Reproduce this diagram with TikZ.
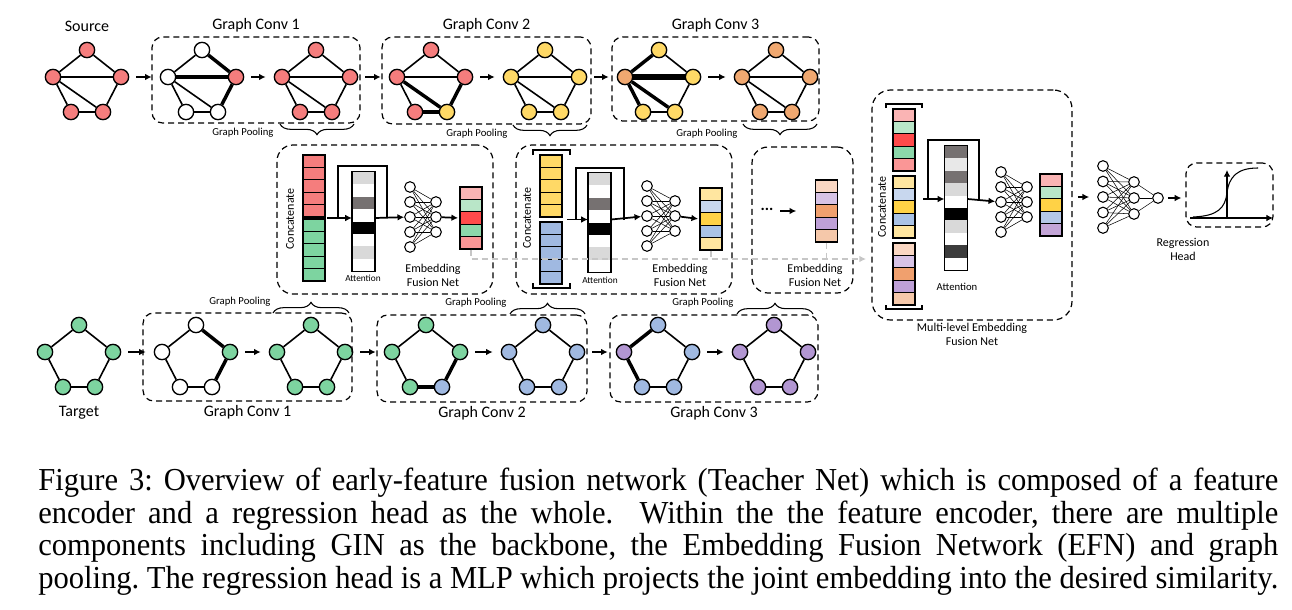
\documentclass[tikz,border=0pt]{standalone}
\usepackage{fontspec}
\setmainfont{Liberation Serif}
\newfontfamily\diagfont{Carlito}
\usetikzlibrary{arrows.meta,positioning,calc,fit,decorations.pathreplacing}
\definecolor{gred}{RGB}{245,125,125}
\definecolor{gyel}{RGB}{255,217,102}
\definecolor{gora}{RGB}{240,168,112}
\definecolor{ggrn}{RGB}{125,212,160}
\definecolor{gblu}{RGB}{160,185,225}
\definecolor{gpur}{RGB}{178,150,210}
\definecolor{lred}{RGB}{250,180,180}
\definecolor{lgrn}{RGB}{185,230,200}
\definecolor{dred}{RGB}{255,75,75}
\definecolor{mgrn}{RGB}{140,215,170}
\definecolor{pred}{RGB}{250,150,150}
\definecolor{lyel}{RGB}{255,230,160}
\definecolor{lblu}{RGB}{200,215,238}
\definecolor{gold}{RGB}{255,210,70}
\definecolor{mblu}{RGB}{170,195,230}
\definecolor{lblux}{RGB}{180,199,231}
\definecolor{peach}{RGB}{250,215,195}
\definecolor{lpur}{RGB}{215,195,230}
\definecolor{lpurx}{RGB}{195,165,215}
\definecolor{dora}{RGB}{240,160,110}
\definecolor{mpur}{RGB}{190,160,215}
\definecolor{peachx}{RGB}{245,200,170}
\definecolor{alg}{RGB}{217,217,217}
\definecolor{algx}{RGB}{232,232,232}
\definecolor{adg}{RGB}{118,113,113}
\definecolor{adk}{RGB}{60,60,60}

% graph with five vertices: name, x, y, colours (top, left, right, bottom left, bottom right)
\newcommand\gpent[8]{%
  \node[vx, fill=#4] (#1-t) at ({#2},{#3-27}) {};
  \node[vx, fill=#5] (#1-l) at ({#2-34},{#3}) {};
  \node[vx, fill=#6] (#1-r) at ({#2+34},{#3}) {};
  \node[vx, fill=#7] (#1-a) at ({#2-16},{#3+35}) {};
  \node[vx, fill=#8] (#1-b) at ({#2+16},{#3+35}) {};}
\newcommand\gring[6]{%
  \draw[#2] (#1-t) -- (#1-l); \draw[#3] (#1-t) -- (#1-r); \draw[#4] (#1-r) -- (#1-b);
  \draw[#5] (#1-b) -- (#1-a); \draw[#6] (#1-a) -- (#1-l);}
\newcommand\gchords[3]{\draw[#2] (#1-l) -- (#1-r); \draw[#3] (#1-l) -- (#1-b);}
% embedding vector: name, x, top, colours
\newcommand\emvec[4]{%
  \foreach \c [count=\i] in {#4}
    \node[cell, fill=\c] (#1\i) at ({#2},{#3+12.4*(\i-0.5)}) {};}
% attention bar: name, x, top, colours, count
\newcommand\attbar[5]{%
  \foreach \c [count=\i] in {#4}
    \node[acell, fill=\c] (#1\i) at ({#2},{#3+12.4*(\i-0.5)}) {};
  \draw[line width=1pt] (#11.north west) rectangle (#1#5.south east);}
% small fusion net: name, x in, x out, y
\newcommand\nnet[4]{%
  \foreach \i in {1,...,5} \node[neu] (#1-i\i) at ({#2},{#4+15*(\i-3)}) {};
  \foreach \j in {1,2,3} \node[neu] (#1-o\j) at ({#3},{#4+15*(\j-2)}) {};
  \foreach \i in {1,...,5} \foreach \j in {1,2,3} \draw[syn] (#1-i\i) -- (#1-o\j);}
\newlength\capw
\newcommand\capfont{\fontsize{24}{24}\selectfont\frenchspacing}
\newcommand\capline[1]{\scalebox{\capf}[1]{\makebox[\capw][s]{#1}}}

\begin{document}
\settowidth{\capw}{\capfont pooling. The regression head is a MLP which projects the joint embedding into the desired similarity.}%
\pgfmathsetmacro\capf{930/\capw}%
\begin{tikzpicture}[x=0.75pt, y=-0.75pt, >=Latex,
  vx/.style={circle, draw, line width=1pt, minimum size=11.5pt, inner sep=0pt},
  edg/.style={line width=1.2pt}, edgt/.style={line width=2.6pt}, edgtt/.style={line width=3.8pt},
  arr/.style={-{Latex[length=5pt,width=5pt]}, line width=1.3pt},
  garr/.style={arr, shorten <=5pt, shorten >=6pt},
  dbox/.style={draw, line width=0.9pt, dash pattern=on 4.5pt off 3pt, rounded corners=8pt, inner sep=0pt},
  cell/.style={draw, line width=0.9pt, minimum width=16.5pt, minimum height=9.3pt, inner sep=0pt},
  acell/.style={minimum width=17pt, minimum height=9.3pt, inner sep=0pt},
  neu/.style={circle, draw, line width=0.8pt, minimum size=8pt, inner sep=0pt, fill=white},
  syn/.style={line width=0.4pt},
  brk/.style={line width=1.3pt},
  ln/.style={line width=1.3pt},
  gdash/.style={gray!45, line width=1.2pt, dash pattern=on 4.5pt off 3pt},
  brcd/.style={decorate, decoration={brace, amplitude=8pt, mirror}, line width=0.8pt},
  brcu/.style={decorate, decoration={brace, amplitude=8pt}, line width=0.8pt},
  lbl/.style={font=\diagfont\fontsize{12}{14}\selectfont, inner sep=2pt},
  gp/.style={font=\diagfont\fontsize{8}{9}\selectfont, inner sep=1pt},
  efl/.style={font=\diagfont\fontsize{9}{10.5}\selectfont, align=center, inner sep=1pt},
  att/.style={font=\diagfont\fontsize{7}{8}\selectfont, inner sep=1pt},
  captxt/.style={font=\capfont, inner sep=0pt, anchor=base west}]
\useasboundingbox (0,0) rectangle (1292,610);

% source graph and its convolutions
\gpent{src}{87}{77}{gred}{gred}{gred}{gred}{gred}
\gring{src}{edg}{edg}{edg}{edg}{edg} \gchords{src}{edg}{edg}
\gpent{caa}{202}{77}{white}{white}{gred}{white}{white}
\gring{caa}{edg}{edgt}{edgt}{edg}{edg} \gchords{caa}{edgt}{edg}
\gpent{cab}{316}{77}{gred}{gred}{gred}{gred}{gred}
\gring{cab}{edg}{edg}{edg}{edg}{edg} \gchords{cab}{edg}{edg}
\gpent{cba}{431}{77}{gred}{gred}{gred}{gred}{gyel}
\gring{cba}{edg}{edg}{edgt}{edgt}{edg} \gchords{cba}{edg}{edgt}
\gpent{cbb}{545}{77}{gyel}{gyel}{gyel}{gyel}{gyel}
\gring{cbb}{edg}{edg}{edg}{edg}{edg} \gchords{cbb}{edg}{edg}
\gpent{cca}{659}{77}{gyel}{gora}{gyel}{gyel}{gyel}
\gring{cca}{edgt}{edg}{edg}{edg}{edgt} \gchords{cca}{edgtt}{edgt}
\gpent{ccb}{776}{77}{gora}{gora}{gora}{gora}{gora}
\gring{ccb}{edg}{edg}{edg}{edg}{edg} \gchords{ccb}{edg}{edg}
\foreach \a/\b in {src/caa,caa/cab,cab/cba,cba/cbb,cbb/cca,cca/ccb}
  \draw[garr] (\a-r) -- (\b-l);

\node[lbl, above=5pt of src-t] (srcname) {Source};
\node[dbox, fit={(152,37) (360,123)}] (gc1) {};
\node[dbox, fit={(382,37) (591,124)}] (gc2) {};
\node[dbox, fit={(612,37) (819,121)}] (gc3) {};
\node[lbl, above=1pt of gc1] {Graph Conv 1};
\node[lbl, above=1pt of gc2] {Graph Conv 2};
\node[lbl, above=1pt of gc3] {Graph Conv 3};
\draw[brcd] (280,124) -- (354,124);
\draw[brcd] (513,125) -- (587,125);
\draw[brcd] (743,124) -- (817,124);
\node[gp] at (243,133) {Graph Pooling};
\node[gp] at (477,134) {Graph Pooling};
\node[gp] at (707,134) {Graph Pooling};

% target graph and its convolutions
\gpent{tgt}{79}{352}{ggrn}{ggrn}{ggrn}{ggrn}{ggrn}
\gring{tgt}{edg}{edg}{edg}{edg}{edg}
\gpent{daa}{196}{352}{white}{white}{ggrn}{white}{white}
\gring{daa}{edg}{edgt}{edgt}{edg}{edg}
\gpent{dab}{311}{352}{ggrn}{ggrn}{ggrn}{ggrn}{ggrn}
\gring{dab}{edg}{edg}{edg}{edg}{edg}
\gpent{dba}{426}{352}{ggrn}{ggrn}{ggrn}{ggrn}{gblu}
\gring{dba}{edg}{edg}{edgt}{edgt}{edg}
\gpent{dbb}{543}{352}{gblu}{gblu}{gblu}{gblu}{gblu}
\gring{dbb}{edg}{edg}{edg}{edg}{edg}
\gpent{dca}{658}{352}{gblu}{gpur}{gblu}{gblu}{gblu}
\gring{dca}{edgt}{edg}{edg}{edg}{edgt}
\gpent{dcb}{774}{352}{gpur}{gpur}{gpur}{gpur}{gpur}
\gring{dcb}{edg}{edg}{edg}{edg}{edg}
\foreach \a/\b in {tgt/daa,daa/dab,dab/dba,dba/dbb,dbb/dca,dca/dcb}
  \draw[garr] (\a-r) -- (\b-l);

\node[lbl] (tgtname) at (79,413) {Target};
\node[dbox, fit={(143,313) (352,401)}] (hc1) {};
\node[dbox, fit={(377,315) (587,402)}] (hc2) {};
\node[dbox, fit={(610,315) (818,402)}] (hc3) {};
\node[lbl, below=1pt of hc1] {Graph Conv 1};
\node[lbl, below=1pt of hc2] {Graph Conv 2};
\node[lbl, below=1pt of hc3] {Graph Conv 3};
\draw[brcu] (273,313) -- (349,313);
\draw[brcu] (510,314) -- (585,314);
\draw[brcu] (737,314) -- (813,314);
\node[gp] at (240,302) {Graph Pooling};
\node[gp] at (476,303) {Graph Pooling};
\node[gp] at (703,303) {Graph Pooling};

% embedding fusion net 1
\node[dbox, rounded corners=12pt, fit={(277,145) (493,294)}] (efA) {};
\node[efl, rotate=90] at (290,219) {Concatenate};
\emvec{vA}{314}{155}{gred,gred,gred,gred,gred}
\emvec{wA}{314}{219}{ggrn,ggrn,ggrn,ggrn,ggrn}
\attbar{aA}{363.5}{172}{alg,white,adg,white,black,white,alg,white}{8}
\nnet{nA}{410}{436}{217}
\emvec{oA}{471}{187}{lred,lgrn,dred,mgrn,pred}
\coordinate (jA) at (327,218);
\draw[arr] (jA) -- (jA -| aA1.west);
\draw[ln] (338,218) |- (387,166) -- (387,218);
\draw[arr] (jA -| aA1.east) -- (nA-i3);
\draw[arr, shorten >=1pt] (nA-o2) -- (oA3.west);
\node[att] at (363,278) {Attention};
\node[efl] at (433,275) {Embedding\\Fusion Net};

% embedding fusion net 2
\node[dbox, rounded corners=12pt, fit={(516,145) (732,294)}] (efB) {};
\node[efl, rotate=90] at (527,218) {Concatenate};
\draw[brk] (533,155) -- (533,150) -- (570,150) -- (570,155);
\draw[brk] (533,283) -- (533,288) -- (570,288) -- (570,283);
\emvec{vB}{551}{155}{gyel,gyel,gyel,gyel,gyel}
\emvec{wB}{551}{222}{gblu,gblu,gblu,gblu,gblu}
\attbar{aB}{599.5}{173}{alg,white,adg,white,black,white,alg,white}{8}
\nnet{nB}{647}{675}{216}
\emvec{oB}{711}{188}{lyel,lblu,gold,mblu,lyel}
\coordinate (jB) at (567,219.5);
\draw[arr] (jB) -- (jB -| aB1.west);
\draw[ln] (576,219.5) |- (624,168) -- (624,219.5);
\draw[arr] (jB -| aB1.east) -- (nB-i3);
\draw[arr, shorten >=1pt] (nB-o2) -- (oB3.west);
\node[att] at (600,280) {Attention};
\node[efl] at (680,275) {Embedding\\Fusion Net};

% embedding fusion net 3
\node[dbox, rounded corners=12pt, fit={(752,147) (853,293)}] (efC) {};
\node[efl, font=\diagfont\bfseries\fontsize{12}{12}\selectfont] (dots) at (767,209) {...};
\emvec{oC}{826.5}{180}{peach,lpur,dora,mpur,peachx}
\draw[arr, shorten <=4pt, shorten >=14pt] (dots.east |- oC3) -- (oC3.west);
\node[efl] at (815,275) {Embedding\\Fusion Net};

% multi-level embedding fusion net
\node[dbox, rounded corners=14pt, fit={(872,90) (1072,320)}] (mlf) {};
\node[efl, below=1pt of mlf] {Multi-level Embedding\\Fusion Net};
\node[efl, rotate=90] at (882,207) {Concatenate};
\draw[brk] (886,108) -- (886,104) -- (922,104) -- (922,108);
\draw[brk] (886,305) -- (886,309) -- (922,309) -- (922,305);
\emvec{vM}{904}{109}{lred,lgrn,dred,mgrn,pred}
\emvec{wM}{904}{176}{lyel,lblu,gold,mblu,lyel}
\emvec{xM}{904}{243}{peach,lpur,dora,mpur,peachx}
\attbar{aM}{956}{146}{adg,algx,adg,alg,white,black,alg,white,adk,white}{10}
\nnet{nM}{1001}{1027}{202}
\emvec{oM}{1051}{174}{lred,lgrn,gold,lblux,lpurx}
\coordinate (jM) at (923,199);
\draw[arr] (jM) -- (jM -| aM1.west);
\draw[ln] (928,199) |- (979,140) -- (979,199);
\draw[arr] (jM -| aM1.east) -- (nM-i3);
\node[efl, font=\diagfont\fontsize{8}{9}\selectfont] at (957,287) {Attention};

% grey path of the fused embeddings
\coordinate (bus) at (471,259);
\draw[gdash, -{Latex[length=5pt,width=5pt]}, shorten >=4pt] (oA5.south) -- (bus) -- (bus -| mlf.west);
\draw[gdash] (oB5.south) -- (oB5.south |- bus);
\draw[gdash] (oC5.south) -- (oC5.south |- bus);

% regression head
\foreach \i in {1,...,5} \node[neu] (r1-\i) at (1103,{166+15.5*(\i-1)}) {};
\foreach \j in {1,2,3} \node[neu] (r2-\j) at (1134,{182+16*(\j-1)}) {};
\node[neu] (ro) at (1158,198) {};
\foreach \i in {1,...,5} \foreach \j in {1,2,3} \draw[syn] (r1-\i) -- (r2-\j);
\foreach \j in {1,2,3} \draw[syn] (r2-\j) -- (ro);
\draw[arr, shorten <=4pt, shorten >=6pt] (mlf.east |- r1-3) -- (r1-3);
\node[efl] at (1183,249) {Regression\\Head};
\node[dbox, fit={(1186,163) (1273,227)}] (sig) {};
\draw[arr, shorten <=3pt, shorten >=3pt] (ro) -- (ro -| sig.west);
\coordinate (orig) at (1227,218);
\draw[-{Latex[length=5pt,width=5pt]}, line width=0.8pt] (1190,218) -- (1273,218);
\draw[-{Latex[length=5pt,width=5pt]}, line width=0.8pt] (orig) -- (1227,170);
\draw[line width=0.8pt] (1193,217) .. controls (1218,216) and (1225,208) .. (1227,193)
  .. controls (1229,176) and (1238,168) .. (1258,168);

% caption
\node[captxt] (cap1) at (38,490) {\capline{Figure 3: Overview of early-feature fusion network (Teacher Net) which is composed of a feature}};
\node[captxt] (cap2) at (38,523) {\capline{encoder and a regression head as the whole.\ \ Within the the feature encoder, there are multiple}};
\node[captxt] (cap3) at (38,555.5) {\capline{components including GIN as the backbone, the Embedding Fusion Network (EFN) and graph}};
\node[captxt] (cap4) at (38,588) {\capline{pooling. The regression head is a MLP which projects the joint embedding into the desired similarity.}};
\end{tikzpicture}
\end{document}
